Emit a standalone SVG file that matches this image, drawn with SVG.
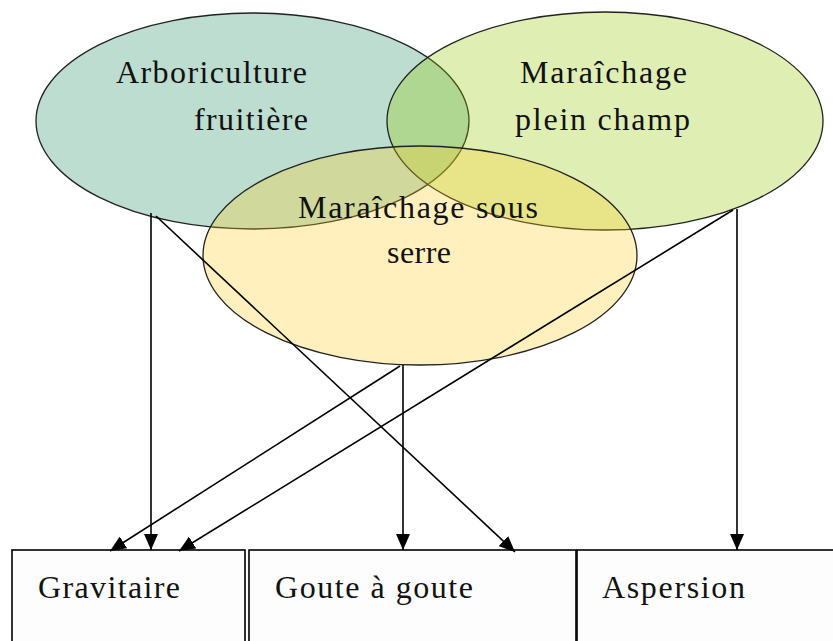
<svg xmlns="http://www.w3.org/2000/svg" width="833" height="641" viewBox="0 0 833 641">
<defs>
<style>
.ell{stroke:#222;stroke-width:1.3}
.lbl{font-family:"Liberation Serif","Times New Roman",serif;font-size:32px;fill:#111}
.box{fill:#fdfdfd;stroke:#000;stroke-width:1.6}
.con{stroke:#000;stroke-width:1.6;fill:none;marker-end:url(#arr)}
</style>
<marker id="arr" markerUnits="userSpaceOnUse" markerWidth="16" markerHeight="14" viewBox="0 0 16 14" refX="16" refY="7" orient="auto">
<path d="M0,0 L16,7 L0,14 Z" fill="#000"/>
</marker>
</defs>
<rect width="833" height="641" fill="#fff"/>
<g id="box-gravitaire">
<rect class="box" x="12" y="550" width="233" height="100"/>
<text class="lbl" x="38" y="598" textLength="142" lengthAdjust="spacing">Gravitaire</text>
</g>
<g id="box-goute">
<rect class="box" x="249" y="550" width="327" height="100"/>
<text class="lbl" x="275" y="598" textLength="198" lengthAdjust="spacing">Goute à goute</text>
</g>
<g id="box-aspersion">
<rect class="box" x="577" y="550" width="270" height="100"/>
<text class="lbl" x="602" y="598" textLength="143" lengthAdjust="spacing">Aspersion</text>
</g>
<g id="ell-arbo">
<ellipse class="ell" cx="252.5" cy="121" rx="216.5" ry="108" fill="rgb(32,142,95)" fill-opacity="0.3"/>
</g>
<g id="ell-plein">
<ellipse class="ell" cx="605" cy="121" rx="218" ry="109" fill="rgb(148,202,8)" fill-opacity="0.3"/>
</g>
<g id="ell-serre">
<ellipse class="ell" cx="420" cy="255.5" rx="217" ry="109.5" fill="rgb(255,205,35)" fill-opacity="0.3"/>
</g>
<g id="labels">
<text class="lbl" x="116" y="83" textLength="191" lengthAdjust="spacing">Arboriculture</text>
<text class="lbl" x="194" y="130" textLength="114" lengthAdjust="spacing">fruitière</text>
<text class="lbl" x="520" y="83" textLength="167" lengthAdjust="spacing">Maraîchage</text>
<text class="lbl" x="515" y="130" textLength="175" lengthAdjust="spacing">plein champ</text>
<text class="lbl" x="298" y="218" textLength="240" lengthAdjust="spacing">Maraîchage sous</text>
<text class="lbl" x="387" y="263" textLength="64" lengthAdjust="spacing">serre</text>
</g>
<g id="connectors">
<path class="con" d="M151,213 L151,550"/>
<path class="con" d="M156,216 L515,552"/>
<path class="con" d="M403,365 L403,550"/>
<path class="con" d="M400,366 L110,551"/>
<path class="con" d="M733,210 L179,551"/>
<path class="con" d="M737,209 L737,550"/>
</g>
</svg>
